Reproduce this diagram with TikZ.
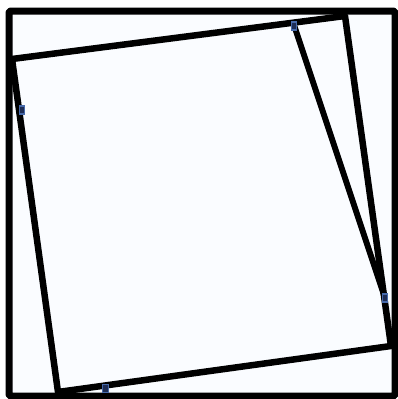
\documentclass[tikz,border=0pt]{standalone}
\definecolor{bgfill}{RGB}{250,252,255}
\definecolor{mkfill}{RGB}{30,45,85}
\definecolor{mkline}{RGB}{70,105,170}
\tikzset{
  edge/.style={line width=6.5pt, black, line join=round},
  frame/.style={line width=7pt, black, line join=round, rounded corners=2pt},
  marker/.style={draw=mkline, fill=mkfill, line width=1.4pt, minimum width=5.5pt, minimum height=8pt, inner sep=0pt, rectangle}
}
\begin{document}
\begin{tikzpicture}[x=1pt,y=-1pt]
\useasboundingbox (0,0) rectangle (398,399);
\fill[bgfill] (9,11) rectangle (395,396);
% inner tilted square
\coordinate (A) at (12,59);
\coordinate (B) at (345,16);
\coordinate (C) at (391,346);
\coordinate (D) at (58,392);
\coordinate (P) at (294,25);
\coordinate (Q) at (385,298);
\draw[edge] (A) -- (B) -- (C) -- (D) -- cycle;
\draw[edge, line width=6pt] (P) -- (Q);
% outer frame
\draw[frame] (9,11) rectangle (395,396);
% markers
\node[marker] (mP) at (294,26) {};
\node[marker] (mQ) at (385,298) {};
\node[marker] (mL) at (22,110) {};
\node[marker] (mB) at (105.5,388.5) {};
\end{tikzpicture}
\end{document}
